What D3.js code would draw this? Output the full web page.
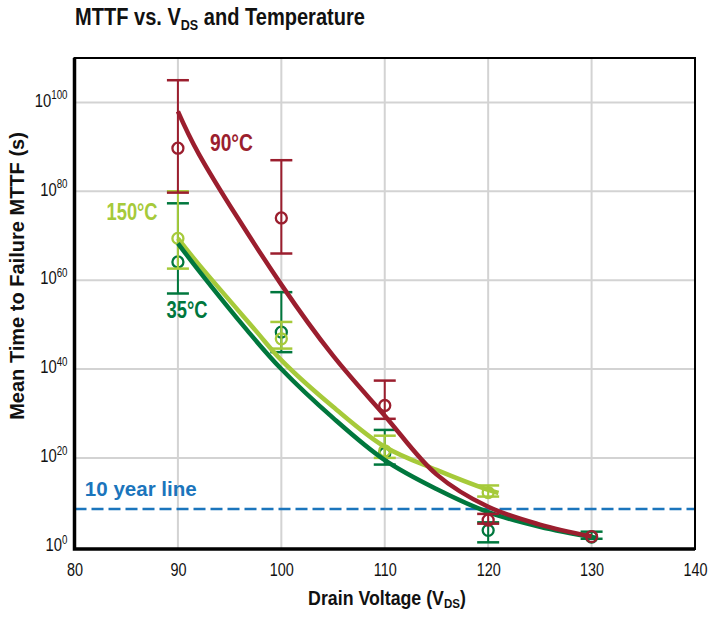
<!DOCTYPE html>
<html>
<head>
<meta charset="utf-8">
<script src="https://cdn.jsdelivr.net/npm/d3@7"></script>
<style>
body { margin: 0; background: #fff; }
text { font-family: "Liberation Sans", Arial, sans-serif; }
</style>
</head>
<body>
<script>
// values are exponents: log10 of MTTF in seconds
var xTicks = [80, 90, 100, 110, 120, 130, 140];
var yTicks = [0, 20, 40, 60, 80, 100];
var tenYearLine = 8.5;

// measured points with error bars
var v90 = [90, 100, 110, 120, 130];
var mid90 = [89.7, 74, 31.8, 6, 2.3];
var lo90 = [79.7, 66, 28.8, 5.2, 2.3];
var hi90 = [105, 87, 37.4, 7.4, 2.3];

var v150 = [90, 100, 110, 120];
var mid150 = [69.4, 46.8, 21.6, 12.2];
var lo150 = [62.6, 44.6, 20, 11.3];
var hi150 = [80, 50.6, 25, 13.8];

var v35 = [90, 100, 110, 120, 130];
var mid35 = [64.1, 48.3, 21, 3.7, 2.2];
var lo35 = [57, 43.8, 18.5, 1, 1.8];
var hi35 = [77.3, 57.3, 26.3, 5.5, 3.4];

// fitted curves
var fitV90 = [90, 92, 100, 105, 110, 115, 120, 125, 130];
var fitE90 = [98, 88.5, 59, 43, 29.5, 16.3, 9, 5, 2.3];
var fitV150 = [90, 92, 97.5, 100, 105, 110, 115, 120, 121];
var fitE150 = [69.4, 63.6, 48.7, 42, 31.5, 22.5, 17.3, 12.8, 12.1];
var fitV35 = [90, 92, 96.7, 100, 105, 110, 115, 120, 125, 130.5];
var fitE35 = [68.3, 62.2, 48.7, 40, 29, 19.5, 13, 7.8, 4.5, 2];

var red = "#9b1e2e", lime = "#a6ca3a", dgreen = "#00773d", blue = "#1b75bc";

var width = 711, height = 620;
var svg = d3.select("body").append("svg")
  .attr("width", width)
  .attr("height", height);

var x = d3.scaleLinear().domain([80, 140]).range([74.5, 695]);
var y = d3.scaleLinear().domain([-0.5, 110]).range([549, 58]);

// squeeze a text horizontally to a target width (stand-in for a condensed font)
function squeeze(sel, target) {
  var node = sel.node();
  var bb = node.getBBox();
  var k = target / bb.width;
  var anchor = sel.attr("text-anchor") || "start";
  var ax = anchor == "middle" ? bb.x + bb.width / 2 : anchor == "end" ? bb.x + bb.width : bb.x;
  sel.attr("transform", "translate(" + ax + ",0)scale(" + k + ",1)translate(" + (-ax) + ",0)");
}

// grid
svg.append("g").selectAll("line")
  .data(xTicks.slice(1, -1))
  .enter().append("line")
    .attr("x1", function(d) { return x(d); })
    .attr("x2", function(d) { return x(d); })
    .attr("y1", y(110)).attr("y2", y(-0.5))
    .style("stroke", "#d3d3d3").style("stroke-width", 2);

svg.append("g").selectAll("line")
  .data(yTicks.slice(1))
  .enter().append("line")
    .attr("x1", x(80)).attr("x2", x(140))
    .attr("y1", function(d) { return y(d); })
    .attr("y2", function(d) { return y(d); })
    .style("stroke", "#d3d3d3").style("stroke-width", 2);

// 10 year line
svg.append("line")
  .attr("x1", x(80)).attr("x2", x(140))
  .attr("y1", y(tenYearLine)).attr("y2", y(tenYearLine))
  .style("stroke", blue).style("stroke-width", 2.5)
  .style("stroke-dasharray", "12,5");

// axes (labels only, no tick marks)
var xAxis = svg.append("g")
  .attr("transform", "translate(0," + y(-0.5) + ")")
  .call(d3.axisBottom(x).tickValues(xTicks).tickSize(0).tickPadding(14));
xAxis.select(".domain").remove();
xAxis.selectAll("text")
  .style("font-size", "19px").style("fill", "#111")
  .attr("transform", "scale(0.76,1)");

var yAxis = svg.append("g")
  .attr("transform", "translate(" + (x(80) - 7) + ",0)")
  .call(d3.axisLeft(y).tickValues(yTicks).tickSize(0).tickPadding(0).tickFormat(""));
yAxis.select(".domain").remove();
yAxis.selectAll(".tick text").each(function(d) {
  var t = d3.select(this).attr("x", 0).attr("dy", "0.38em").style("fill", "#111")
    .attr("transform", "scale(0.78,1)");
  t.append("tspan").text("10").style("font-size", "19px");
  t.append("tspan").text(d).attr("dy", "-0.6em").style("font-size", "12.5px");
});

function drawFit(vs, es, color) {
  var pts = vs.map(function(v, i) { return [v, es[i]]; });
  svg.append("path")
    .datum(pts)
    .attr("d", d3.line()
      .x(function(d) { return x(d[0]); })
      .y(function(d) { return y(d[1]); })
      .curve(d3.curveCatmullRom.alpha(0.5)))
    .style("fill", "none")
    .style("stroke", color)
    .style("stroke-width", 4.5);
}

function drawPoints(vs, mid, lo, hi, color) {
  var rows = vs.map(function(v, i) { return {v: v, m: mid[i], lo: lo[i], hi: hi[i]}; });
  var g = svg.append("g");
  var bars = rows.filter(function(d) { return d.hi > d.lo; });
  g.selectAll(".bar").data(bars).enter().append("line")
    .attr("x1", function(d) { return x(d.v); })
    .attr("x2", function(d) { return x(d.v); })
    .attr("y1", function(d) { return y(d.lo); })
    .attr("y2", function(d) { return y(d.hi); })
    .style("stroke", color).style("stroke-width", 2);
  ["lo", "hi"].forEach(function(k) {
    g.selectAll(".cap" + k).data(bars).enter().append("line")
      .attr("x1", function(d) { return x(d.v) - 11; })
      .attr("x2", function(d) { return x(d.v) + 11; })
      .attr("y1", function(d) { return y(d[k]); })
      .attr("y2", function(d) { return y(d[k]); })
      .style("stroke", color).style("stroke-width", 2.5);
  });
  g.selectAll("circle").data(rows).enter().append("circle")
    .attr("cx", function(d) { return x(d.v); })
    .attr("cy", function(d) { return y(d.m); })
    .attr("r", 5.5)
    .style("fill", "none")
    .style("stroke", color).style("stroke-width", 2.3);
}

drawPoints(v35, mid35, lo35, hi35, dgreen);
drawPoints(v150, mid150, lo150, hi150, lime);
drawFit(fitV150, fitE150, lime);
drawFit(fitV35, fitE35, dgreen);
drawPoints(v90, mid90, lo90, hi90, red);
drawFit(fitV90, fitE90, red);

// frame
svg.append("rect")
  .attr("x", x(80)).attr("y", y(110))
  .attr("width", x(140) - x(80)).attr("height", y(-0.5) - y(110))
  .style("fill", "none").style("stroke", "#000").style("stroke-width", 2);
svg.append("path")
  .attr("d", "M" + x(80) + "," + y(110) + "V" + y(-0.5) + "H" + x(140))
  .style("fill", "none").style("stroke", "#000").style("stroke-width", 3.5);

// series labels
function label(txt, v, e, color, size, w) {
  var t = svg.append("text")
    .attr("x", x(v)).attr("y", y(e))
    .text(txt)
    .style("fill", color)
    .style("font-weight", "bold")
    .style("font-size", size + "px");
  squeeze(t, w);
}
label("90°C", 93.1, 89.1, red, 23, 43);
label("150°C", 83.1, 73.6, lime, 23, 51);
label("35°C", 88.9, 51.5, dgreen, 23, 41);
label("10 year line", 81, 11.4, blue, 21, 112);

// title
var title = svg.append("text")
  .attr("x", 75).attr("y", 25)
  .style("font-weight", "bold").style("font-size", "24px").style("fill", "#111");
title.append("tspan").text("MTTF vs. V");
title.append("tspan").text("DS").attr("dy", 5).style("font-size", "15px");
title.append("tspan").text(" and Temperature").attr("dy", -5);
squeeze(title, 290);

// x title
var xt = svg.append("text")
  .attr("x", 387).attr("y", 605)
  .attr("text-anchor", "middle")
  .style("font-weight", "bold").style("font-size", "20px").style("fill", "#111");
xt.append("tspan").text("Drain Voltage (V");
xt.append("tspan").text("DS").attr("dy", 3).style("font-size", "13px");
xt.append("tspan").text(")").attr("dy", -3);
squeeze(xt, 158);

// y title
var yt = svg.append("g").attr("transform", "translate(24,276)rotate(-90)")
  .append("text")
  .attr("text-anchor", "middle")
  .style("font-weight", "bold").style("font-size", "20px").style("fill", "#111")
  .text("Mean Time to Failure MTTF (s)");
squeeze(yt, 288);
</script>
</body>
</html>
